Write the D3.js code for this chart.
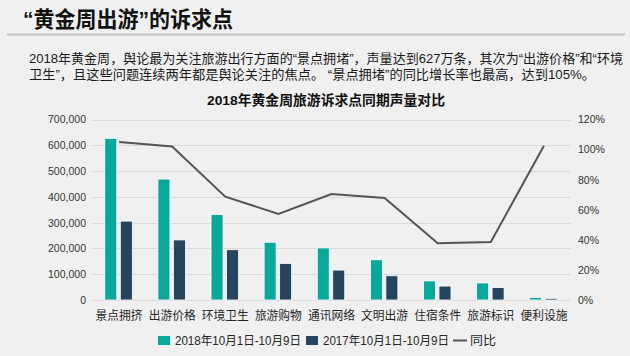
<!DOCTYPE html>
<html><head><meta charset="utf-8">
<script src="https://cdn.jsdelivr.net/npm/d3@7/dist/d3.min.js"></script>
<style>
body{margin:0;background:#f0f0f0;}
svg{display:block;font-family:"Liberation Sans","Noto Sans CJK SC",sans-serif;}
</style></head>
<body>
<svg id="c" width="630" height="356"></svg>
<script>
const categories = ["景点拥挤","出游价格","环境卫生","旅游购物","通讯网络","文明出游","住宿条件","旅游标识","便利设施"];
const series2018 = [627000,469000,332000,224000,202000,156000,74000,66000,10000];
const series2017 = [306000,233000,195000,142000,116000,94000,54000,48000,6500];
const yoy = [1.05,1.02,0.687,0.572,0.705,0.678,0.377,0.386,1.026];
const leftTicks = [0,100000,200000,300000,400000,500000,600000,700000];
const rightTicks = [0,0.2,0.4,0.6,0.8,1.0,1.2];
const seriesNames = ["2018年10月1日-10月9日","2017年10月1日-10月9日","同比"];
const colors = ["#0aa89a","#27445f","#555555"];

const svg = d3.select("#c");
svg.append("rect").attr("width",630).attr("height",356).attr("fill","#f0f0f0");

// Header
svg.append("text").attr("x",23).attr("y",27).attr("font-size",22).attr("font-weight","bold")
  .attr("fill","#111").attr("textLength",210).attr("lengthAdjust","spacingAndGlyphs")
  .text("“黄金周出游”的诉求点");
svg.append("line").attr("x1",7).attr("x2",625).attr("y1",34.5).attr("y2",34.5)
  .attr("stroke","#c4c4c4").attr("stroke-width",2);

svg.append("text").attr("x",29).attr("y",63).attr("font-size",13).attr("fill","#1a1a1a")
  .attr("textLength",594).attr("lengthAdjust","spacingAndGlyphs")
  .text("2018年黄金周，舆论最为关注旅游出行方面的“景点拥堵”，声量达到627万条，其次为“出游价格”和“环境");
svg.append("text").attr("x",29).attr("y",79).attr("font-size",13).attr("fill","#1a1a1a")
  .attr("textLength",566).attr("lengthAdjust","spacingAndGlyphs")
  .text("卫生”，且这些问题连续两年都是舆论关注的焦点。 “景点拥堵”的同比增长率也最高，达到105%。");

svg.append("text").attr("x",326).attr("y",104.5).attr("text-anchor","middle").attr("font-size",13.5)
  .attr("font-weight","bold").attr("fill","#111").attr("textLength",238).attr("lengthAdjust","spacingAndGlyphs")
  .text("2018年黄金周旅游诉求点同期声量对比");

// Scales
const x = d3.scaleBand().domain(categories).range([92.5,570.5]);
const yL = d3.scaleLinear().domain([0,700000]).range([300,119.5]);
const yR = d3.scaleLinear().domain([0,1.2]).range([300,119.5]);

// grid
svg.append("g").selectAll("line").data(leftTicks).join("line")
  .attr("x1",92.5).attr("x2",570.5).attr("y1",d=>Math.round(yL(d))+0.5).attr("y2",d=>Math.round(yL(d))+0.5)
  .attr("stroke","#d9d9d9").attr("stroke-width",1);

// left axis
const axL = svg.append("g").attr("transform","translate(92,0)")
  .call(d3.axisLeft(yL).tickValues(leftTicks).tickFormat(d3.format(",")).tickSize(0).tickPadding(6));
axL.select(".domain").remove();
axL.selectAll("text").attr("font-size",10.5).attr("fill","#333").attr("font-family","Liberation Sans, sans-serif");

const axR = svg.append("g").attr("transform","translate(571,0)")
  .call(d3.axisRight(yR).tickValues(rightTicks).tickFormat(d3.format(".0%")).tickSize(0).tickPadding(7));
axR.select(".domain").remove();
axR.selectAll("text").attr("font-size",10.5).attr("fill","#333").attr("font-family","Liberation Sans, sans-serif");

// bars
const bw = 12, gap = 3.5;
const g = svg.append("g");
g.selectAll(".b18").data(categories).join("rect")
  .attr("x",(d)=>x(d)+x.bandwidth()/2 - bw - gap/2 - 0.5)
  .attr("y",(d,i)=>yL(series2018[i]))
  .attr("width",bw).attr("height",(d,i)=>300-yL(series2018[i]))
  .attr("fill",colors[0]).attr("stroke","#ffffff").attr("stroke-width",0.8);
g.selectAll(".b17").data(categories).join("rect")
  .attr("x",(d)=>x(d)+x.bandwidth()/2 + gap/2 - 0.5)
  .attr("y",(d,i)=>yL(series2017[i]))
  .attr("width",bw).attr("height",(d,i)=>300-yL(series2017[i]))
  .attr("fill",colors[1]).attr("stroke","#ffffff").attr("stroke-width",0.8);

// line
const line = d3.line().x((d,i)=>x(categories[i])+x.bandwidth()/2).y(d=>yR(d));
svg.append("path").datum(yoy).attr("d",line).attr("fill","none")
  .attr("stroke",colors[2]).attr("stroke-width",2);

// x labels
svg.append("g").selectAll("text").data(categories).join("text")
  .attr("x",d=>x(d)+x.bandwidth()/2).attr("y",319.5).attr("text-anchor","middle")
  .attr("font-size",12).attr("fill","#262626").attr("textLength",47).attr("lengthAdjust","spacingAndGlyphs")
  .text(d=>d);

// legend
const lg = svg.append("g");
lg.append("rect").attr("x",158).attr("y",336).attr("width",12).attr("height",9).attr("fill",colors[0]);
lg.append("text").attr("x",175).attr("y",345).attr("font-size",12).attr("fill","#262626")
  .attr("textLength",126).attr("lengthAdjust","spacingAndGlyphs").text(seriesNames[0]);
lg.append("rect").attr("x",306).attr("y",336).attr("width",12).attr("height",9).attr("fill",colors[1]);
lg.append("text").attr("x",323).attr("y",345).attr("font-size",12).attr("fill","#262626")
  .attr("textLength",126).attr("lengthAdjust","spacingAndGlyphs").text(seriesNames[1]);
lg.append("line").attr("x1",453).attr("x2",467).attr("y1",340.5).attr("y2",340.5)
  .attr("stroke",colors[2]).attr("stroke-width",2);
lg.append("text").attr("x",470).attr("y",345).attr("font-size",12).attr("fill","#262626")
  .attr("textLength",26).attr("lengthAdjust","spacingAndGlyphs").text(seriesNames[2]);
</script>
</body></html>
